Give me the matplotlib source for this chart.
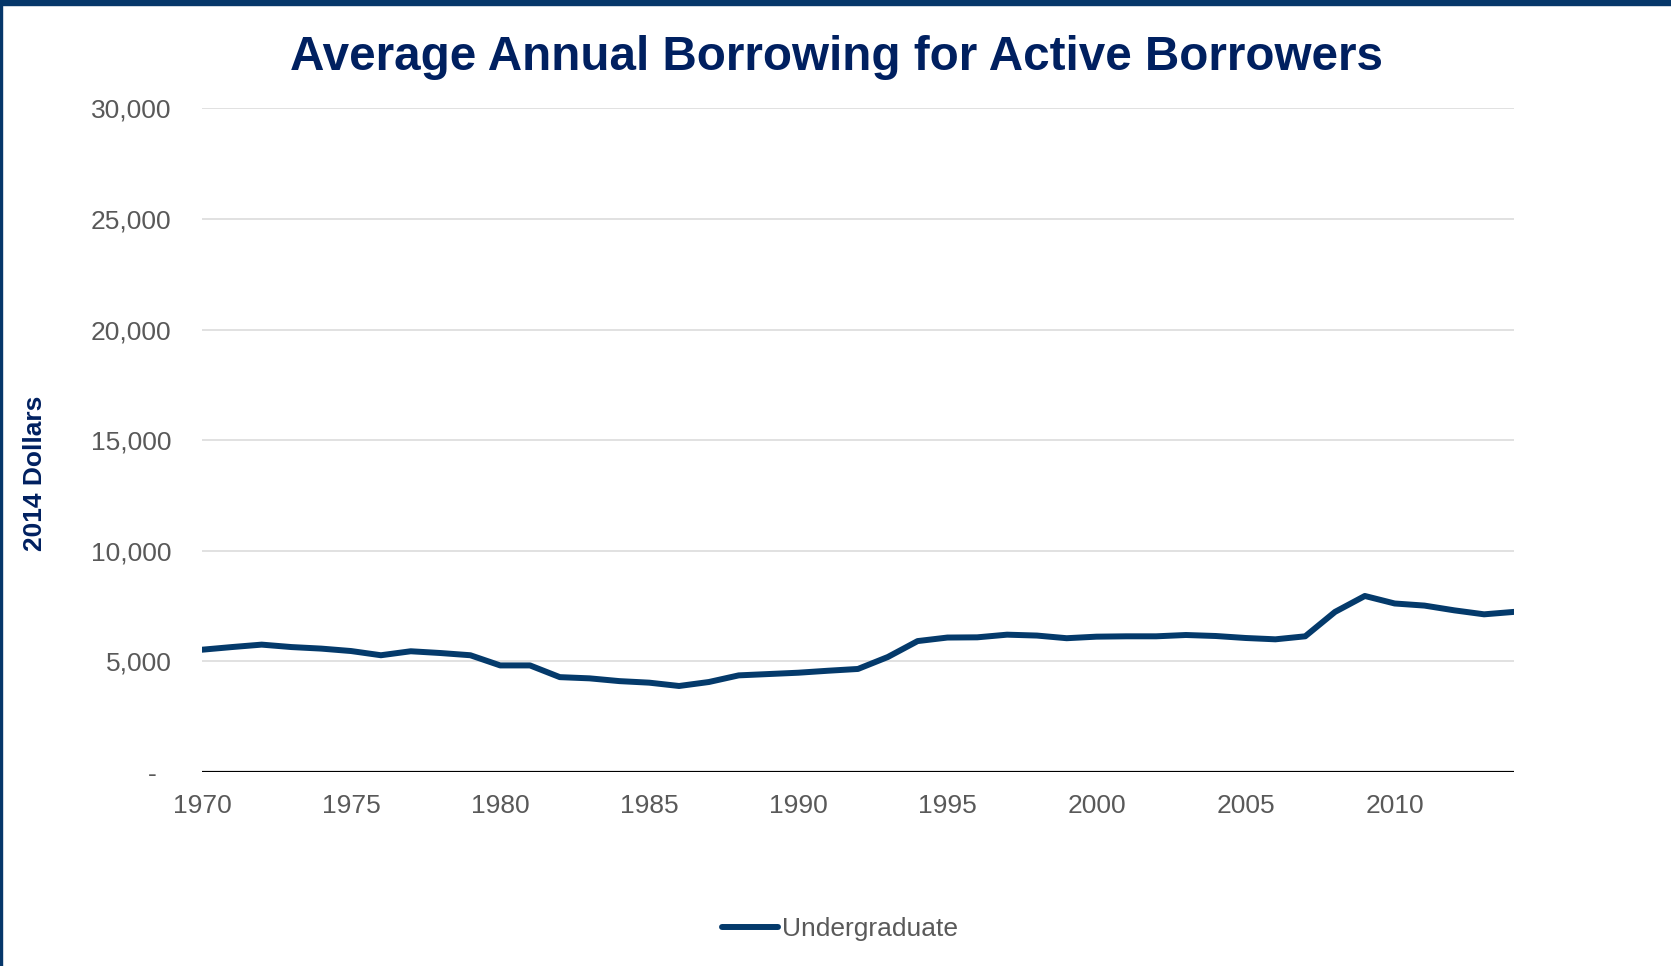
import numpy as np
import matplotlib.pyplot as plt
from matplotlib.lines import Line2D
from matplotlib.ticker import FixedLocator, FuncFormatter

plt.rcParams['font.family'] = ['Liberation Sans', 'DejaVu Sans']

# data (2014 dollars)
years = list(range(1970, 2015))
undergrad = [5530, 5650, 5760, 5650, 5580, 5470, 5280, 5460, 5380, 5280,
             4820, 4820, 4290, 4235, 4110, 4040, 3890, 4070, 4370, 4430,
             4490, 4580, 4660, 5200, 5920, 6080, 6090, 6210, 6170, 6050,
             6120, 6136, 6136, 6195, 6150, 6060, 6000, 6136, 7240, 7960,
             7620, 7525, 7310, 7130, 7240]
series_name = 'Undergraduate'
title = 'Average Annual Borrowing for Active Borrowers'
ylabel = '2014 Dollars'

navy = '#002060'
line_col = '#043A6B'
grey = '#595959'

fig = plt.figure(figsize=(16.71, 9.66), dpi=100)
ax = fig.add_axes([0.1209, 0.2008, 0.906 - 0.1209, 0.8877 - 0.2008])

ax.plot(years, undergrad, color=line_col, lw=4.3, solid_capstyle='round',
        solid_joinstyle='round', zorder=3)

ax.set_xlim(1970, 2014)
ax.set_ylim(0, 30000)
ax.xaxis.set_major_locator(FixedLocator(range(1970, 2015, 5)))
ax.yaxis.set_major_locator(FixedLocator(range(0, 30001, 5000)))
ax.yaxis.set_major_formatter(FuncFormatter(
    lambda v, p: '-  ' if v == 0 else '{:,.0f}'.format(v)))

ax.grid(axis='y', color='#d9d9d9', lw=1.1, zorder=0)
ax.axhline(0, color='black', lw=2.3, zorder=2)
for s in ax.spines.values():
    s.set_visible(False)
ax.tick_params(axis='both', length=0, labelsize=19, colors=grey)
ax.tick_params(axis='y', pad=22)
ax.tick_params(axis='x', pad=16)

fig.text(836 / 1671, 1 - 58 / 966, title, ha='center', va='center',
         fontsize=34.3, fontweight='bold', color=navy)
fig.text(35 / 1671, 1 - 473 / 966, ylabel, ha='center', va='center',
         rotation=90, fontsize=19, fontweight='bold', color=navy)

handle = Line2D([], [], color=line_col, lw=4.3, solid_capstyle='round')
fig.legend([handle], [series_name], loc='center',
           bbox_to_anchor=(840 / 1671, 1 - 929 / 966), frameon=False,
           fontsize=19, labelcolor=grey, handlelength=2.1,
           handletextpad=0.15)

# frame of the slide: thick band on top, thin line on the left
fig.add_artist(plt.Rectangle((0, 1 - 5 / 966), 1, 5 / 966,
                             transform=fig.transFigure, color='#06376A'))
fig.add_artist(plt.Rectangle((0, 0), 2 / 1671, 1,
                             transform=fig.transFigure, color='#06376A'))

fig.savefig('out.png', dpi=100)
